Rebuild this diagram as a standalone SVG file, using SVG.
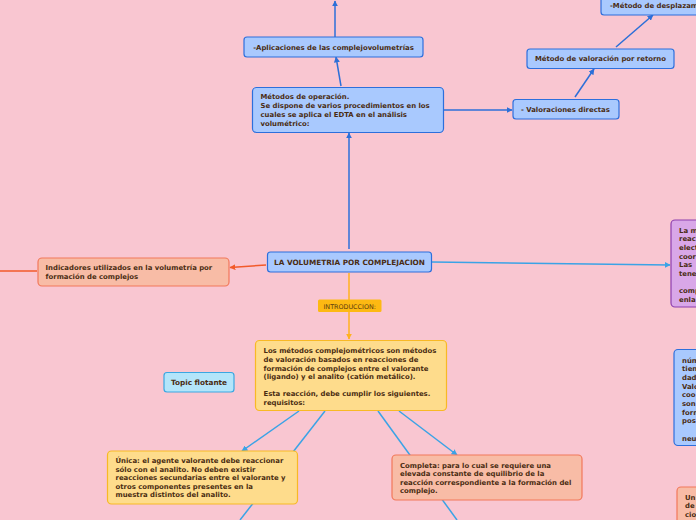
<svg xmlns="http://www.w3.org/2000/svg" width="696" height="520" viewBox="0 0 696 520">
<style>
text{font-family:"DejaVu Sans","Verdana",sans-serif;font-weight:bold;font-size:6.9px;fill:#4a2c12}
.blue{fill:#a9c9fe;stroke:#2d6fdc;stroke-width:1.2}
.salmon{fill:#f8bca6;stroke:#f2785a;stroke-width:1.2}
.yellow{fill:#fedc8c;stroke:#f8b925;stroke-width:1.2}
.lblue{fill:#b3e5fa;stroke:#3aa7e2;stroke-width:1.2}
.purple{fill:#d9a7e8;stroke:#8e3fae;stroke-width:1.2}
.c-blue{stroke:#2c6fd8;stroke-width:1.5;fill:none}
.c-lb{stroke:#3aa3e6;stroke-width:1.5;fill:none}
.c-or{stroke:#ffb21e;stroke-width:1.5;fill:none}
.c-rd{stroke:#f25a2a;stroke-width:1.5;fill:none}
.mid{text-anchor:middle}
</style>
<defs>
<marker id="ab" viewBox="0 0 10 10" refX="9" refY="5" markerWidth="6" markerHeight="6" orient="auto" markerUnits="userSpaceOnUse"><path d="M0,0L10,5L0,10z" fill="#2c6fd8"/></marker>
<marker id="alb" viewBox="0 0 10 10" refX="9" refY="5" markerWidth="6" markerHeight="6" orient="auto" markerUnits="userSpaceOnUse"><path d="M0,0L10,5L0,10z" fill="#3aa3e6"/></marker>
<marker id="aor" viewBox="0 0 10 10" refX="9" refY="5" markerWidth="6" markerHeight="6" orient="auto" markerUnits="userSpaceOnUse"><path d="M0,0L10,5L0,10z" fill="#ffb21e"/></marker>
<marker id="ard" viewBox="0 0 10 10" refX="9" refY="5" markerWidth="6" markerHeight="6" orient="auto" markerUnits="userSpaceOnUse"><path d="M0,0L10,5L0,10z" fill="#f25a2a"/></marker>
</defs>
<rect width="696" height="520" fill="#f9c6d1"/>
<g id="connectors">
<line class="c-blue" x1="335" y1="37" x2="335" y2="1" marker-end="url(#ab)"/>
<line class="c-blue" x1="341" y1="86" x2="336" y2="57" marker-end="url(#ab)"/>
<line class="c-blue" x1="349" y1="249" x2="349" y2="133" marker-end="url(#ab)"/>
<line class="c-blue" x1="444" y1="110" x2="512" y2="110" marker-end="url(#ab)"/>
<line class="c-blue" x1="575" y1="97" x2="594" y2="69" marker-end="url(#ab)"/>
<line class="c-blue" x1="616" y1="47" x2="653" y2="15" marker-end="url(#ab)"/>
<line class="c-rd" x1="266" y1="265" x2="230" y2="267.5" marker-end="url(#ard)"/>
<line class="c-rd" x1="37" y1="271" x2="0" y2="271"/>
<line class="c-lb" x1="432" y1="262" x2="670" y2="265" marker-end="url(#alb)"/>
<line class="c-or" x1="349" y1="273" x2="349" y2="339" marker-end="url(#aor)"/>
<line class="c-lb" x1="299" y1="411" x2="242" y2="451" marker-end="url(#alb)"/>
<line class="c-lb" x1="325" y1="411" x2="240" y2="520"/>
<line class="c-lb" x1="378" y1="411" x2="457" y2="520"/>
<line class="c-lb" x1="399" y1="411" x2="457" y2="455" marker-end="url(#alb)"/>
</g>
<g id="intro-label">
<rect x="318" y="299.5" width="63.5" height="12.5" rx="1.5" fill="#fdb912"/>
<text x="349.7" y="308.5" class="mid" style="font-weight:normal;font-size:6.4px;fill:#5a3a10">INTRODUCCION:</text>
</g>
<g id="n-aplicaciones">
<rect class="blue" x="244" y="37" width="179" height="20" rx="3"/>
<text x="333.5" y="49.5" class="mid">-Aplicaciones de las complejovolumetrías</text>
</g>
<g id="n-metodos">
<rect class="blue" x="252.5" y="87.5" width="191" height="45" rx="4"/>
<text x="260.5" y="99.3">Métodos de operación.</text>
<text x="260.5" y="108.3">Se dispone de varios procedimientos en los</text>
<text x="260.5" y="117.3">cuales se aplica el EDTA en el análisis</text>
<text x="260.5" y="126.3">volumétrico:</text>
</g>
<g id="n-directas">
<rect class="blue" x="513" y="99.5" width="106" height="19.5" rx="3"/>
<text x="521" y="111.8">- Valoraciones directas</text>
</g>
<g id="n-retorno">
<rect class="blue" x="527" y="49" width="147" height="19.5" rx="3"/>
<text x="600.5" y="61.3" class="mid">Método de valoración por retorno</text>
</g>
<g id="n-desplazamiento">
<rect class="blue" x="601" y="-6" width="110" height="21" rx="3"/>
<text x="610" y="8">-Método de desplazamiento</text>
</g>
<g id="n-central">
<rect class="blue" x="267.5" y="252" width="164" height="20" rx="3"/>
<text x="349.5" y="264.8" class="mid" style="font-size:7.3px">LA VOLUMETRIA POR COMPLEJACION</text>
</g>
<g id="n-indicadores">
<rect class="salmon" x="38" y="258" width="191" height="28" rx="4"/>
<text x="45.5" y="269.5">Indicadores utilizados en la volumetría por</text>
<text x="45.5" y="278.5">formación de complejos</text>
</g>
<g id="n-purple">
<rect class="purple" x="671" y="220" width="40" height="87" rx="4"/>
<text x="679" y="232.5">La m</text>
<text x="679" y="241.2">reac</text>
<text x="679" y="249.9">elect</text>
<text x="679" y="258.6">coor</text>
<text x="679" y="267.3">Las</text>
<text x="679" y="276">tene</text>
<text x="679" y="293.4">comp</text>
<text x="679" y="302.1">enla</text>
</g>
<g id="n-blue-right">
<rect class="blue" x="674" y="349.5" width="40" height="96" rx="4"/>
<text x="682" y="362.5">núm</text>
<text x="682" y="371.2">tien</text>
<text x="682" y="379.9">dad</text>
<text x="682" y="388.6">Valo</text>
<text x="682" y="397.3">coo</text>
<text x="682" y="406">son</text>
<text x="682" y="414.7">form</text>
<text x="682" y="423.4">pos</text>
<text x="682" y="440.8">neu</text>
</g>
<g id="n-salmon-right">
<rect class="salmon" x="677" y="487" width="40" height="45" rx="4"/>
<text x="685" y="499.5">Un</text>
<text x="685" y="508.2">de</text>
<text x="685" y="516.9">cio</text>
</g>
<g id="n-intro">
<rect class="yellow" x="255.5" y="340.5" width="191" height="70" rx="4"/>
<text x="263.5" y="353.3">Los métodos complejométricos son métodos</text>
<text x="263.5" y="361.9">de valoración basados en reacciones de</text>
<text x="263.5" y="370.5">formación de complejos entre el valorante</text>
<text x="263.5" y="379.1">(ligando) y el analito (catión metálico).</text>
<text x="263.5" y="396.3">Esta reacción, debe cumplir los siguientes.</text>
<text x="263.5" y="404.9">requisitos:</text>
</g>
<g id="n-topic">
<rect class="lblue" x="164" y="372.5" width="70" height="19.5" rx="3"/>
<text x="199" y="384.8" class="mid" style="font-size:7.3px">Topic flotante</text>
</g>
<g id="n-unica">
<rect class="yellow" x="107.5" y="451" width="190" height="53" rx="4"/>
<text x="115.5" y="463.3">Única: el agente valorante debe reaccionar</text>
<text x="115.5" y="471.8">sólo con el analito. No deben existir</text>
<text x="115.5" y="480.3">reacciones secundarias entre el valorante y</text>
<text x="115.5" y="488.8">otros componentes presentes en la</text>
<text x="115.5" y="497.3">muestra distintos del analito.</text>
</g>
<g id="n-completa">
<rect class="salmon" x="392" y="455" width="190" height="45" rx="4"/>
<text x="400" y="467.5">Completa: para lo cual se requiere una</text>
<text x="400" y="476">elevada constante de equilibrio de la</text>
<text x="400" y="484.5">reacción correspondiente a la formación del</text>
<text x="400" y="493">complejo.</text>
</g>
</svg>
